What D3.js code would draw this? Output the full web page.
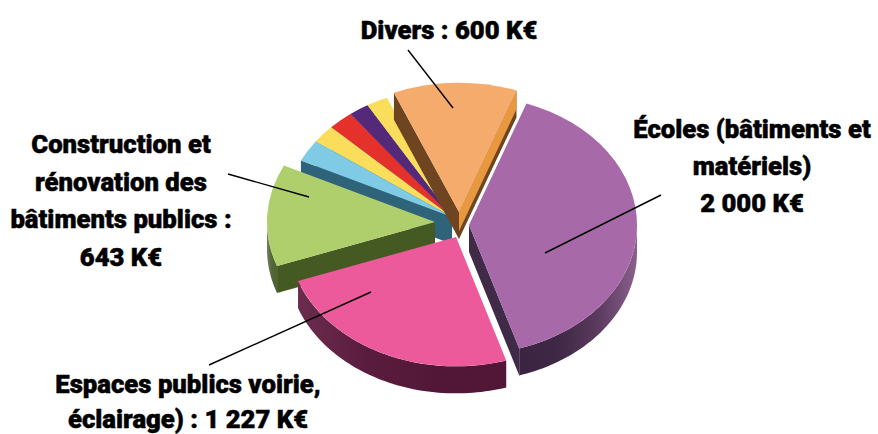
<!DOCTYPE html>
<html lang="fr">
<head>
    <meta charset="UTF-8">
    <title>Répartition des investissements</title>
    <script src="https://d3js.org/d3.v7.min.js"></script>
    <style>
        html, body { margin: 0; padding: 0; background: #fff; }
        .label { font-family: "Roboto", sans-serif; font-weight: 900; font-size: 25.7px; fill: #000; stroke: #000; stroke-width: 0.5px; text-anchor: middle; }
        .leader { stroke: #000; stroke-width: 1.4px; fill: none; }
    </style>
</head>
<body>
    <div id="chart"></div>
    <script>
        // clockwise from the Écoles slice, values in K€ (the five small slices have no label, estimated)
        const categories = ["Écoles", "Espaces publics", "Bâtiments publics", "Autre 1", "Autre 2", "Autre 3", "Autre 4", "Autre 5", "Divers"];
        const values = [2000, 1227, 643, 138, 115, 124, 97, 105, 600];
        const groups = ["ecoles", "espaces", "batiments", "petits", "petits", "petits", "petits", "petits", "divers"];

        const topColors = ["#a869a9", "#ec5a9c", "#afcf6d", "#7fcbe6", "#f9dd5b", "#e4312c", "#54297a", "#f9dd5b", "#f5ab6c"];
        const wallColors = ["#3f2a48", "#5a1a3a", "#455a22", "#2f6379", "#2f6379", "#2f6379", "#2f6379", "#2f6379", "#6e4421"];
        const rimColors = [
            ["#3b2442", "#3f2845", "#5a3a5e", "#8b5f8d"],
            ["#6b2c4e", "#5a1c3e", "#521736", "#521736"],
            ["#6f8058", "#5b6d42", "#4f6334", "#4f6334"],
            null, null, null, null, null, null
        ];

        const width = 878, height = 434;
        const cx = 459, cy = 225, rx = 168, squash = 0.77, depth = 27;
        // how far each block of the exploded pie is moved, in pixels
        const pull = { ecoles: [10, 0], espaces: [-3, 12], batiments: [-24, -3], petits: [-7, -8], divers: [0, -13] };
        const drawOrder = [7, 6, 5, 4, 3, 8, 2, 0, 1];

        const labels = [
            { x: 449, y: 39, gap: 37, lines: ["Divers : 600 K€"] },
            { x: 752, y: 138, gap: 37, lines: ["Écoles (bâtiments et", "matériels)", "2 000 K€"] },
            { x: 121, y: 153, gap: 37.5, lines: ["Construction et", "rénovation des", "bâtiments publics :", "643 K€"] },
            { x: 188, y: 393, gap: 35, lines: ["Espaces publics voirie,", "éclairage) : 1 227 K€"] }
        ];
        const leaders = [
            [408, 50, 453, 108],
            [661, 195, 545, 253],
            [228, 174, 309, 197],
            [209, 365, 371, 292]
        ];

        const svg = d3.select("#chart").append("svg")
            .attr("width", width)
            .attr("height", height)
            .style("display", "block");
        const defs = svg.append("defs");

        const slices = d3.pie().sort(null).value(d => d)
            .startAngle(20 * Math.PI / 180)
            .endAngle((360 + 20) * Math.PI / 180)(values);

        const arc = d3.arc().innerRadius(0).outerRadius(rx);
        const point = (a, r) => [r * Math.sin(a), -r * Math.cos(a) * squash];
        const line = d3.line();

        drawOrder.forEach(i => {
            const s = slices[i];
            const [ox, oy] = pull[groups[i]];
            const slice = svg.append("g").attr("transform", `translate(${cx + ox},${cy + oy})`);

            const wall = (a, color, h) => {
                const p = point(a, rx);
                slice.append("path")
                    .attr("d", line([[0, 0], p, [p[0], p[1] + h], [0, h]]) + "Z")
                    .attr("fill", color);
            };

            // radial walls, only the ones facing the viewer
            if (Math.sin(s.startAngle) < 0) wall(s.startAngle, wallColors[i], depth);
            if (Math.sin(s.endAngle) > 0) {
                if (categories[i] === "Divers") {
                    wall(s.endAngle, "#6e4421", depth);
                    wall(s.endAngle, "#e8993f", depth * 0.7);
                } else {
                    wall(s.endAngle, wallColors[i], depth);
                }
            }

            // curved outer wall, front half of the ellipse only
            const a0 = Math.max(s.startAngle, Math.PI / 2);
            const a1 = Math.min(s.endAngle, 3 * Math.PI / 2);
            if (a1 > a0 && rimColors[i]) {
                const id = "rim" + i;
                const steps = d3.range(0, 61).map(k => a0 + (a1 - a0) * k / 60);
                const upper = steps.map(a => point(a, rx));
                const lower = upper.map(p => [p[0], p[1] + depth]).reverse();
                const xs = d3.extent(upper, p => p[0]);
                const grad = defs.append("linearGradient").attr("id", id)
                    .attr("gradientUnits", "userSpaceOnUse")
                    .attr("x1", xs[0]).attr("x2", xs[1]).attr("y1", 0).attr("y2", 0);
                rimColors[i].forEach((c, k, all) => {
                    grad.append("stop").attr("offset", k / (all.length - 1)).attr("stop-color", c);
                });
                slice.append("path")
                    .attr("d", line(upper.concat(lower)) + "Z")
                    .attr("fill", `url(#${id})`);
            }

            // top face: a d3 arc flattened into an ellipse
            slice.append("path")
                .attr("transform", `scale(1,${squash})`)
                .attr("d", arc(s))
                .attr("fill", topColors[i]);
        });

        svg.selectAll(".leader").data(leaders).join("line")
            .attr("class", "leader")
            .attr("x1", d => d[0]).attr("y1", d => d[1])
            .attr("x2", d => d[2]).attr("y2", d => d[3]);

        labels.forEach(l => {
            svg.append("text").attr("class", "label")
                .selectAll("tspan").data(l.lines).join("tspan")
                .attr("x", l.x)
                .attr("y", (d, i) => l.y + i * l.gap)
                .text(d => d);
        });
    </script>
</body>
</html>
